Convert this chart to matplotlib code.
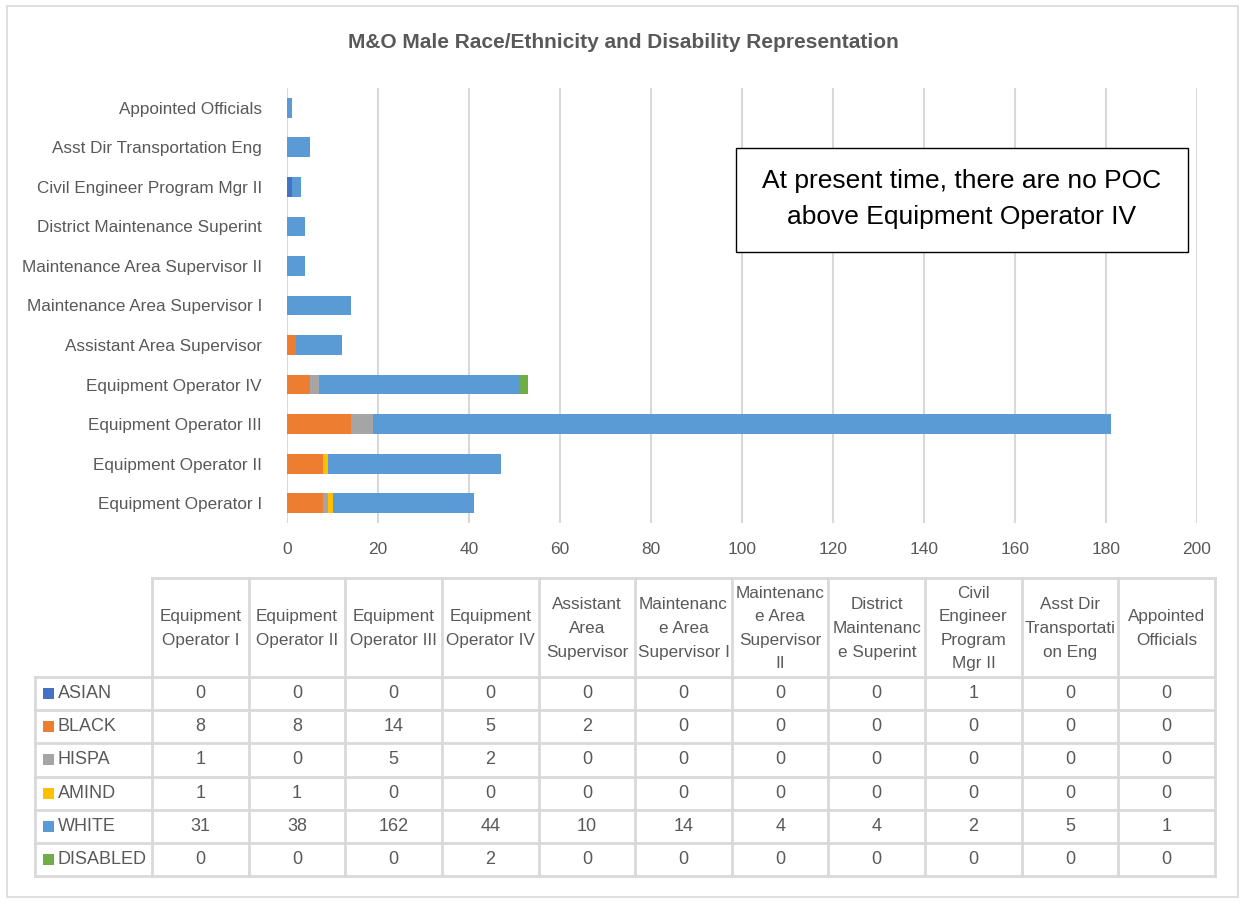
import matplotlib
matplotlib.use("Agg")
import matplotlib.pyplot as plt
from matplotlib.patches import Rectangle
import numpy as np

plt.rcParams['font.family'] = ['Liberation Sans', 'DejaVu Sans']

# ---------------- data ----------------
categories = ["Equipment Operator I", "Equipment Operator II", "Equipment Operator III",
              "Equipment Operator IV", "Assistant Area Supervisor", "Maintenance Area Supervisor I",
              "Maintenance Area Supervisor II", "District Maintenance Superint",
              "Civil Engineer Program Mgr II", "Asst Dir Transportation Eng", "Appointed Officials"]
header_labels = ["Equipment\nOperator I", "Equipment\nOperator II", "Equipment\nOperator III",
                 "Equipment\nOperator IV", "Assistant\nArea\nSupervisor", "Maintenanc\ne Area\nSupervisor I",
                 "Maintenanc\ne Area\nSupervisor\nII", "District\nMaintenanc\ne Superint",
                 "Civil\nEngineer\nProgram\nMgr II", "Asst Dir\nTransportati\non Eng", "Appointed\nOfficials"]
series_names = ["ASIAN", "BLACK", "HISPA", "AMIND", "WHITE", "DISABLED"]
asian    = [0, 0, 0, 0, 0, 0, 0, 0, 1, 0, 0]
black    = [8, 8, 14, 5, 2, 0, 0, 0, 0, 0, 0]
hispa    = [1, 0, 5, 2, 0, 0, 0, 0, 0, 0, 0]
amind    = [1, 1, 0, 0, 0, 0, 0, 0, 0, 0, 0]
white    = [31, 38, 162, 44, 10, 14, 4, 4, 2, 5, 1]
disabled = [0, 0, 0, 2, 0, 0, 0, 0, 0, 0, 0]
series_values = [asian, black, hispa, amind, white, disabled]
colors = ["#4472C4", "#ED7D31", "#A5A5A5", "#FFC000", "#5B9BD5", "#70AD47"]
x_ticks = [0, 20, 40, 60, 80, 100, 120, 140, 160, 180, 200]
title = "M&O Male Race/Ethnicity and Disability Representation"
note = "At present time, there are no POC\nabove Equipment Operator IV"

W, H = 1243, 901
TXT = "#595959"
GRID = "#D9D9D9"

fig = plt.figure(figsize=(W / 100, H / 100), dpi=100)
fig.patch.set_facecolor("white")

# ---------------- bar chart ----------------
L, R, T, B = 287, 1197, 88, 523
ax = fig.add_axes([L / W, (H - B) / H, (R - L) / W, (B - T) / H])
y = np.arange(len(categories))
left = np.zeros(len(categories))
for name, vals, c in zip(series_names, series_values, colors):
    ax.barh(y, vals, left=left, height=0.5, color=c, label=name, zorder=3)
    left += np.array(vals)
ax.set_xlim(0, 200)
ax.set_ylim(-0.5, len(categories) - 0.5)
ax.set_xticks(x_ticks)
ax.set_yticks(y)
ax.set_yticklabels(categories)
ax.grid(axis='x', color=GRID, linewidth=1.5, zorder=0)
for s in ax.spines.values():
    s.set_visible(False)
ax.tick_params(axis='x', length=0, pad=14, labelsize=12.5, labelcolor=TXT)
ax.tick_params(axis='y', length=0, pad=18, labelsize=12.3, labelcolor=TXT)

# ---------------- overlay in pixel coords ----------------
ov = fig.add_axes([0, 0, 1, 1], zorder=5)
ov.set_xlim(0, W)
ov.set_ylim(H, 0)
ov.axis('off')
ov.patch.set_alpha(0)

# outer border
ov.add_patch(Rectangle((7, 6), 1231, 891, fill=False, edgecolor=GRID, linewidth=1.2))

# title
ov.text(623, 42, title, ha='center', va='center', fontsize=15, fontweight='bold', color=TXT)

# note box
ov.add_patch(Rectangle((736, 148), 452, 104, facecolor='white', edgecolor='black', linewidth=1.0))
ov.text(962, 199, note, ha='center', va='center', fontsize=19, color='black', linespacing=1.62)

# ---------------- data table ----------------
tl, lab_r, tr = 35, 152, 1215
ht, hb = 578, 677
nrow = len(series_names)
rh = (876 - hb) / nrow
ncol = len(categories)
cw = (tr - lab_r) / ncol
lw = 2.0

# horizontal lines
ov.plot([lab_r, tr], [ht, ht], color=GRID, lw=lw)
for i in range(nrow + 1):
    yy = hb + i * rh
    ov.plot([tl, tr], [yy, yy], color=GRID, lw=lw)
# vertical lines
ov.plot([tl, tl], [hb, hb + nrow * rh], color=GRID, lw=lw)
for j in range(ncol + 1):
    xx = lab_r + j * cw
    ov.plot([xx, xx], [ht, hb + nrow * rh], color=GRID, lw=lw)

# headers
for j, lab in enumerate(header_labels):
    ov.text(lab_r + (j + 0.5) * cw, (ht + hb) / 2 + 1, lab, ha='center', va='center',
            fontsize=12.3, color=TXT, linespacing=1.72)

# rows
for i, (name, vals, c) in enumerate(zip(series_names, series_values, colors)):
    yc = hb + (i + 0.5) * rh
    ov.add_patch(Rectangle((43, yc - 5.5), 11, 11, facecolor=c, edgecolor='none'))
    ov.text(58, yc, name, ha='left', va='center', fontsize=13, color=TXT)
    for j, v in enumerate(vals):
        ov.text(lab_r + (j + 0.5) * cw, yc, str(v), ha='center', va='center', fontsize=13, color=TXT)

fig.savefig("out.png", dpi=100, facecolor='white')
